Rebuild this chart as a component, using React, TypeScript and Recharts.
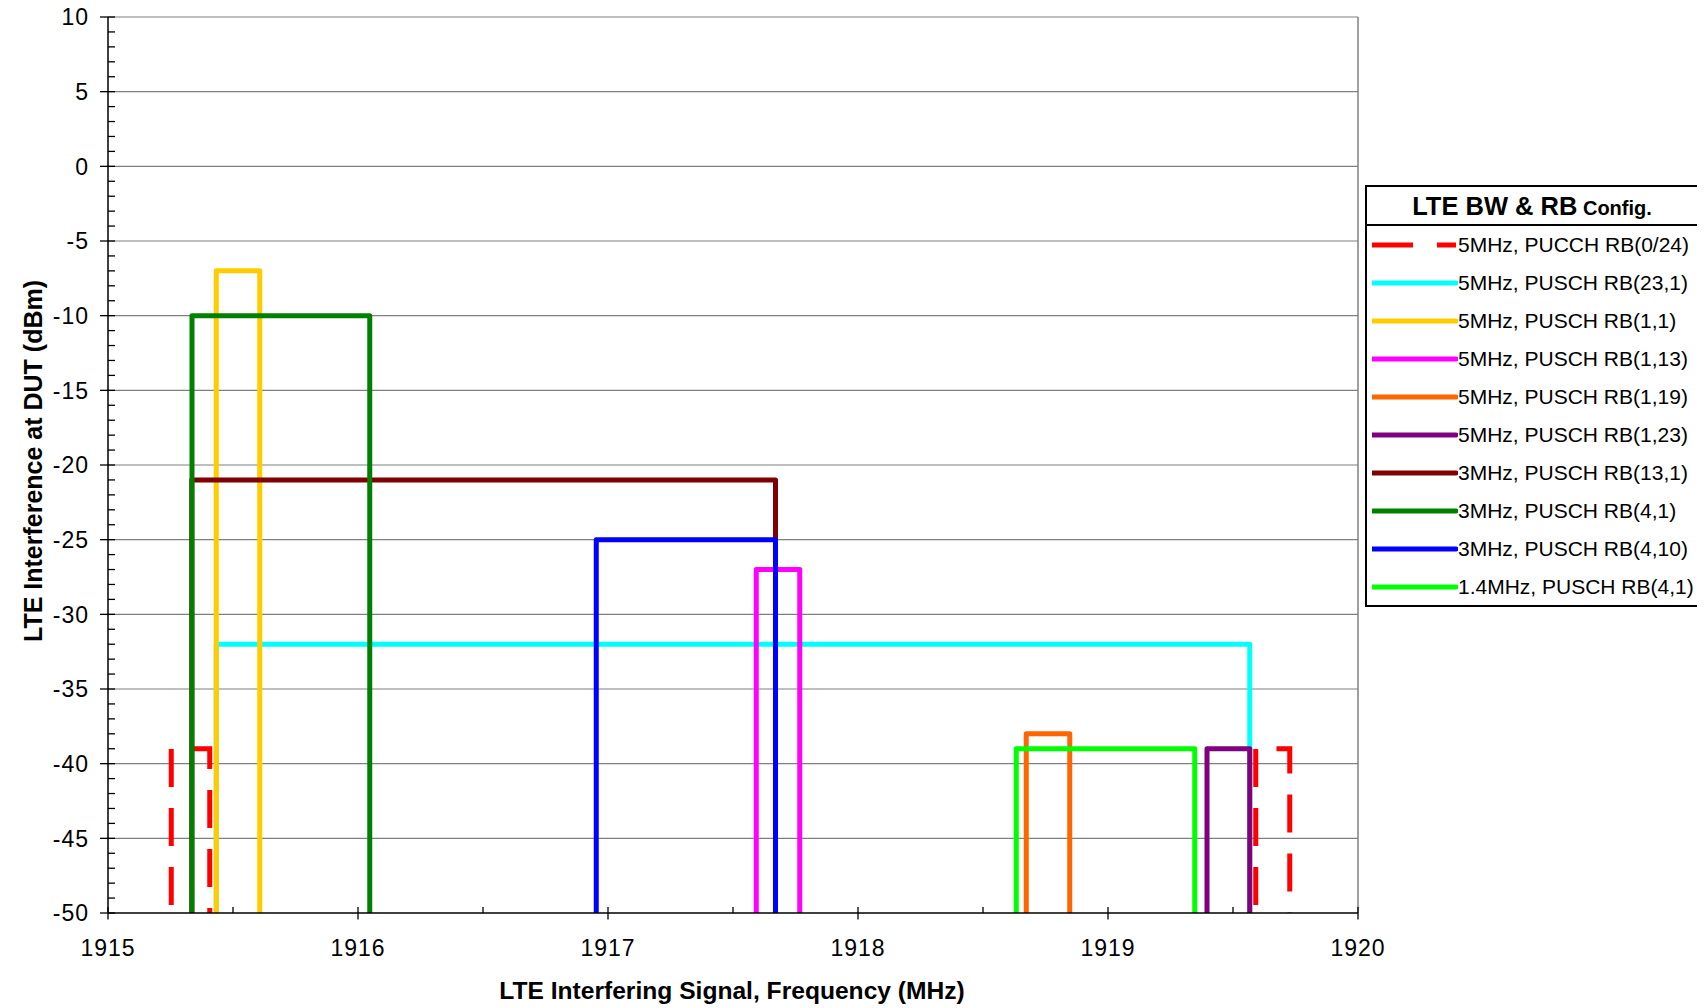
import React from "react";
import { LineChart, Line, XAxis, YAxis, CartesianGrid, ReferenceLine } from "recharts";

const FONT = "'Liberation Sans', Arial, Helvetica, sans-serif";

const seriesNames = [
  "5MHz, PUCCH RB(0/24)",
  "5MHz, PUSCH RB(23,1)",
  "5MHz, PUSCH RB(1,1)",
  "5MHz, PUSCH RB(1,13)",
  "5MHz, PUSCH RB(1,19)",
  "5MHz, PUSCH RB(1,23)",
  "3MHz, PUSCH RB(13,1)",
  "3MHz, PUSCH RB(4,1)",
  "3MHz, PUSCH RB(4,10)",
  "1.4MHz, PUSCH RB(4,1)",
];
const seriesColors = [
  "#FF0000", "#00FFFF", "#FFCC00", "#FF00FF", "#FF6600",
  "#800080", "#800000", "#008000", "#0000FF", "#00FF00",
];
// lower / upper edge frequency (MHz) and level (dBm) of each block
const leftEdges = [1915.253, 1915.433, 1915.433, 1917.593, 1918.673, 1919.396, 1915.335, 1915.336, 1916.953, 1918.633];
const rightEdges = [1915.407, 1919.567, 1915.607, 1917.767, 1918.847, 1919.567, 1917.67, 1916.047, 1917.67, 1919.347];
const topLevels = [-39, -32, -7, -27, -38, -39, -21, -10, -25, -39];
// PUCCH has a second block at the other band edge
const pucchUpperLeft = 1919.591;
const pucchUpperRight = 1919.727;
const floorLevel = -50;

const xMajorTicks = [1915, 1916, 1917, 1918, 1919, 1920];
const xMinorTicks = [1915.5, 1916.5, 1917.5, 1918.5, 1919.5];
const yMajorTicks = [-50, -45, -40, -35, -30, -25, -20, -15, -10, -5, 0, 5, 10];
const yAllTicks = Array.from({ length: 61 }, (_, i) => -50 + i);
const xAllTicks = [...xMajorTicks, ...xMinorTicks].sort((a, b) => a - b);

type Pt = { x: number; y: number | null };
const block = (l: number, r: number, t: number): Pt[] => [
  { x: l, y: floorLevel },
  { x: l, y: t },
  { x: r, y: t },
  { x: r, y: floorLevel },
];

const seriesData: Pt[][] = seriesNames.map((_, i) => {
  const pts = block(leftEdges[i], rightEdges[i], topLevels[i]);
  if (i === 0) {
    return [
      ...pts,
      { x: (rightEdges[0] + pucchUpperLeft) / 2, y: null },
      ...block(pucchUpperLeft, pucchUpperRight, topLevels[0]),
    ];
  }
  return pts;
});

const YTick = (props: any) => {
  const { x, y, payload } = props;
  const v = payload.value;
  const major = v % 5 === 0;
  return (
    <g>
      <line x1={major ? x - 8 : x} x2={x + 7} y1={y} y2={y} stroke="#000" strokeWidth={1.3} />
      {major && (
        <text x={x - 19} y={y} dy="0.36em" textAnchor="end" fontSize={23} fontFamily={FONT} fill="#000" letterSpacing={1}>
          {v}
        </text>
      )}
    </g>
  );
};

const XTick = (props: any) => {
  const { x, y, payload } = props;
  const v = payload.value;
  const major = Number.isInteger(v);
  return (
    <g>
      <line x1={x} x2={x} y1={y - 6} y2={major ? y + 6.5 : y} stroke="#000" strokeWidth={1.3} />
      {major && (
        <text x={x} y={y + 43} textAnchor="middle" fontSize={23} fontFamily={FONT} fill="#000" letterSpacing={1}>
          {v}
        </text>
      )}
    </g>
  );
};

const XTitle = (props: any) => {
  const vb = props.viewBox || { x: 100, y: 905, width: 1250 };
  return (
    <text x={vb.x + vb.width / 2 - 1} y={vb.y + 86} textAnchor="middle" fontSize={24.6} fontWeight="bold" fontFamily={FONT} fill="#000">
      LTE Interfering Signal, Frequency (MHz)
    </text>
  );
};

const YTitle = () => (
  <text x={0} y={0} transform="translate(34,453) rotate(-90)" textAnchor="middle" fontSize={25} fontWeight="bold" fontFamily={FONT} fill="#000">
    LTE Interference at DUT (dBm)
  </text>
);

const LegendBox = () => (
  <div
    style={{
      position: "absolute",
      left: 1357,
      top: 177,
      width: 334,
      height: 422,
      boxSizing: "border-box",
      border: "2px solid #000",
      background: "#fff",
      fontFamily: FONT,
    }}
  >
    <div
      style={{
        height: 39,
        boxSizing: "border-box",
        borderBottom: "2px solid #000",
        textAlign: "center",
        fontWeight: "bold",
        lineHeight: "38px",
        whiteSpace: "nowrap",
      }}
    >
      <span style={{ fontSize: 25.5 }}>LTE BW &amp; RB</span>
      <span style={{ fontSize: 20 }}> Config.</span>
    </div>
    {seriesNames.map((name, i) => (
      <div key={name} style={{ height: 38, display: "flex", alignItems: "center", whiteSpace: "nowrap" }}>
        <svg width={86} height={10} style={{ marginLeft: 5, display: "block" }}>
          <line
            x1={0}
            x2={84}
            y1={5}
            y2={5}
            stroke={seriesColors[i]}
            strokeWidth={5}
            strokeDasharray={i === 0 ? "41 24" : undefined}
            strokeLinecap={i === 0 ? "butt" : "round"}
          />
        </svg>
        <span style={{ fontSize: 21, color: "#000", marginLeft: 0 }}>{name}</span>
      </div>
    ))}
  </div>
);

export default function App() {
  return (
    <div style={{ position: "relative", width: 1697, height: 1000, background: "#fff" }}>
      <LineChart
        width={1697}
        height={1000}
        margin={{ top: 9, right: 347, bottom: 35, left: 10 }}
        style={{ overflow: "visible" }}
      >
        <CartesianGrid horizontalValues={yMajorTicks.filter((v) => v !== -50)} vertical={false} stroke="#808080" strokeWidth={1.2} />
        <ReferenceLine x={1920} stroke="#808080" strokeWidth={1.5} />
        <XAxis
          type="number"
          dataKey="x"
          domain={[1915, 1920]}
          ticks={xAllTicks}
          interval={0}
          allowDataOverflow
          tickLine={false}
          tickSize={0}
          tickMargin={0}
          tick={<XTick />}
          height={60}
          axisLine={{ stroke: "#000", strokeWidth: 1.5 }}
          label={<XTitle />}
        />
        <YAxis
          type="number"
          domain={[-50, 10]}
          ticks={yAllTicks}
          interval={0}
          allowDataOverflow
          tickLine={false}
          tickSize={0}
          tickMargin={0}
          tick={<YTick />}
          width={90}
          axisLine={{ stroke: "#000", strokeWidth: 1.5 }}
          label={<YTitle />}
        />
        {seriesData.map((d, i) => (
          <Line
            key={seriesNames[i]}
            data={d}
            dataKey="y"
            type="linear"
            stroke={seriesColors[i]}
            strokeWidth={5}
            dot={false}
            activeDot={false}
            isAnimationActive={false}
            connectNulls={false}
            strokeLinejoin={i === 0 ? "miter" : "round"}
            strokeLinecap="butt"
            strokeDasharray={i === 0 ? "38 21" : undefined}
            strokeDashoffset={i === 0 ? 51 : undefined}
            name={seriesNames[i]}
          />
        ))}
      </LineChart>
      <LegendBox />
    </div>
  );
}
